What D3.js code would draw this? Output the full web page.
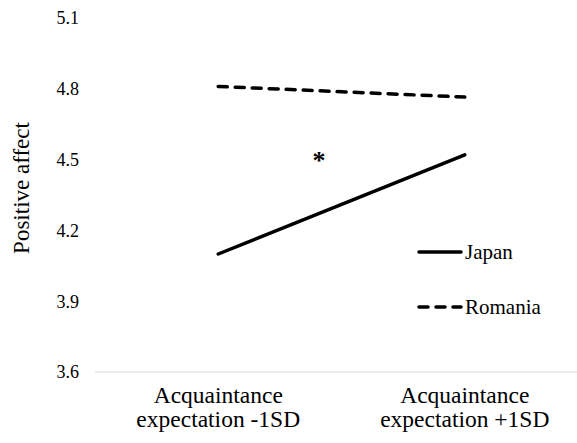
<!DOCTYPE html>
<html>
<head>
<meta charset="utf-8">
<script src="https://cdn.jsdelivr.net/npm/d3@7"></script>
<style>
  body { margin: 0; background: #fff; }
</style>
</head>
<body>
<div id="chart"></div>
<script>
const categories = ["Acquaintance\nexpectation -1SD", "Acquaintance\nexpectation +1SD"];
const japan = [4.10, 4.52];
const romania = [4.81, 4.765];
const yTicks = [3.6, 3.9, 4.2, 4.5, 4.8, 5.1];

const series = [
  { name: "Japan", values: japan, dash: null },
  { name: "Romania", values: romania, dash: "9,8" },
];

const FONT = "Liberation Serif";
const width = 577;
const height = 443;
const margin = { top: 18, right: -11, bottom: 71, left: 95 };

const svg = d3
  .select("#chart")
  .append("svg")
  .attr("width", width)
  .attr("height", height)
  .style("display", "block");

const x = d3
  .scaleBand()
  .domain(categories)
  .range([margin.left, width - margin.right]);

const y = d3
  .scaleLinear()
  .domain([3.6, 5.1])
  .range([height - margin.bottom, margin.top]);

// baseline
svg
  .append("line")
  .attr("x1", margin.left)
  .attr("x2", width)
  .attr("y1", y(3.6))
  .attr("y2", y(3.6))
  .attr("stroke", "#d9d9d9")
  .attr("stroke-width", 1);

// y tick labels
svg
  .append("g")
  .selectAll("text")
  .data(yTicks)
  .join("text")
  .style("font-family", FONT)
  .attr("x", 79)
  .attr("y", (d) => y(d))
  .attr("dy", "0.35em")
  .attr("text-anchor", "end")
  .attr("font-size", 18)
  .attr("fill", "#000")
  .text((d) => d.toFixed(1));

// y title
svg
  .append("text")
  .style("font-family", FONT)
  .attr("transform", `translate(29,188) rotate(-90)`)
  .attr("text-anchor", "middle")
  .attr("font-size", 23)
  .text("Positive affect");

// category labels
const cat = svg
  .append("g")
  .selectAll("text")
  .data(categories)
  .join("text")
  .style("font-family", FONT)
  .attr("text-anchor", "middle")
  .attr("font-size", 23.5)
  .attr("x", (d) => x(d) + x.bandwidth() / 2);
cat
  .selectAll("tspan")
  .data((d) => d.split("\n"))
  .join("tspan")
  .attr("x", function () {
    return d3.select(this.parentNode).attr("x");
  })
  .attr("y", (d, i) => 403 + i * 24)
  .text((d) => d);

// lines
const line = d3
  .line()
  .x((d, i) => x(categories[i]) + x.bandwidth() / 2)
  .y((d) => y(d));

svg
  .append("g")
  .selectAll("path")
  .data(series)
  .join("path")
  .attr("d", (d) => line(d.values))
  .attr("fill", "none")
  .attr("stroke", "#000")
  .attr("stroke-width", 3.5)
  .attr("stroke-linecap", "round")
  .attr("stroke-dasharray", (d) => d.dash);

// significance marker
svg
  .append("text")
  .style("font-family", FONT)
  .attr("x", 319)
  .attr("y", 169)
  .attr("text-anchor", "middle")
  .attr("font-size", 26)
  .attr("font-weight", "bold")
  .text("*");

// legend
const legend = svg
  .append("g")
  .selectAll("g")
  .data(series)
  .join("g")
  .attr("transform", (d, i) => `translate(418,${252 + i * 55})`);
legend
  .append("line")
  .attr("x1", 1)
  .attr("x2", 43)
  .attr("stroke", "#000")
  .attr("stroke-width", 3.5)
  .attr("stroke-linecap", "round")
  .attr("stroke-dasharray", (d) => d.dash);
legend
  .append("text")
  .style("font-family", FONT)
  .attr("x", 47)
  .attr("dy", "0.35em")
  .attr("font-size", 21)
  .text((d) => d.name);
</script>
</body>
</html>
